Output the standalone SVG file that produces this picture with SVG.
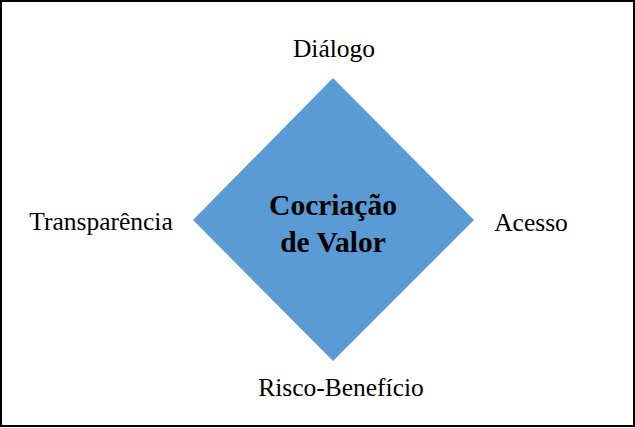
<svg xmlns="http://www.w3.org/2000/svg" width="635" height="428" viewBox="0 0 635 428">
<style>
.lbl{font-size:25.5px;fill:#000;text-anchor:middle}
.ctr{font-size:29.5px;font-weight:bold;fill:#000;text-anchor:middle}
</style>
<rect x="1" y="1" width="633" height="425" fill="#fff" stroke="#000" stroke-width="2"/>
<g id="center" font-family="Liberation Serif, serif">
<polygon points="333,78 474,220 333,361 193,220" fill="#5B9BD5"/>
<text class="ctr" x="333" y="215">Cocriação</text>
<text class="ctr" x="333" y="252">de Valor</text>
</g>
<g id="dialogo" font-family="Liberation Serif, serif"><text class="lbl" x="334" y="57">Diálogo</text></g>
<g id="transparencia" font-family="Liberation Serif, serif"><text class="lbl" x="101" y="230">Transparência</text></g>
<g id="acesso" font-family="Liberation Serif, serif"><text class="lbl" x="531" y="231">Acesso</text></g>
<g id="risco" font-family="Liberation Serif, serif"><text class="lbl" x="341" y="396">Risco-Benefício</text></g>
<g id="connectors"></g>
</svg>
